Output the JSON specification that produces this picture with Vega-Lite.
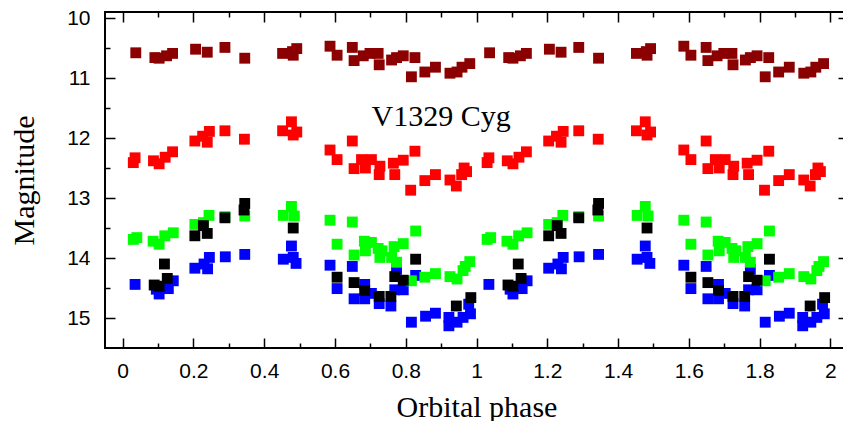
{
  "$schema": "https://vega.github.io/schema/vega-lite/v6.json",
  "autosize": "none",
  "width": 743,
  "height": 336,
  "padding": {"left": 105, "top": 12, "right": 0, "bottom": 73},
  "background": "white",
  "config": {
    "view": {"stroke": "black", "strokeWidth": 2},
    "axis": {
      "domain": false, "grid": false, "tickColor": "black", "tickWidth": 1.5,
      "labelFont": "Liberation Sans", "labelFontSize": 21, "labelColor": "black",
      "titleFont": "Liberation Serif", "titleFontSize": 30, "titleFontWeight": "normal", "titleColor": "black"
    }
  },
  "data": {"values": [
    {"series":"DR","phase":0.037,"mag":10.58},{"series":"DR","phase":0.091,"mag":10.66},{"series":"DR","phase":0.103,"mag":10.67},{"series":"DR","phase":0.124,"mag":10.63},{"series":"DR","phase":0.141,"mag":10.59},{"series":"DR","phase":0.206,"mag":10.52},{"series":"DR","phase":0.239,"mag":10.57},{"series":"DR","phase":0.289,"mag":10.49},{"series":"DR","phase":0.345,"mag":10.67},{"series":"DR","phase":0.452,"mag":10.59},{"series":"DR","phase":0.480,"mag":10.56},{"series":"DR","phase":0.492,"mag":10.51},{"series":"DR","phase":0.482,"mag":10.62},{"series":"DR","phase":0.586,"mag":10.47},{"series":"DR","phase":0.606,"mag":10.62},{"series":"DR","phase":0.649,"mag":10.49},{"series":"DR","phase":0.654,"mag":10.71},{"series":"DR","phase":0.680,"mag":10.63},{"series":"DR","phase":0.699,"mag":10.59},{"series":"DR","phase":0.722,"mag":10.59},{"series":"DR","phase":0.725,"mag":10.78},{"series":"DR","phase":0.760,"mag":10.70},{"series":"DR","phase":0.774,"mag":10.66},{"series":"DR","phase":0.793,"mag":10.63},{"series":"DR","phase":0.826,"mag":10.66},{"series":"DR","phase":0.816,"mag":10.98},{"series":"DR","phase":0.854,"mag":10.90},{"series":"DR","phase":0.884,"mag":10.82},{"series":"DR","phase":0.925,"mag":10.92},{"series":"DR","phase":0.945,"mag":10.90},{"series":"DR","phase":0.959,"mag":10.82},{"series":"DR","phase":0.981,"mag":10.76},
    {"series":"DR","phase":1.037,"mag":10.58},{"series":"DR","phase":1.091,"mag":10.66},{"series":"DR","phase":1.103,"mag":10.67},{"series":"DR","phase":1.124,"mag":10.63},{"series":"DR","phase":1.141,"mag":10.59},{"series":"DR","phase":1.206,"mag":10.52},{"series":"DR","phase":1.239,"mag":10.57},{"series":"DR","phase":1.289,"mag":10.49},{"series":"DR","phase":1.345,"mag":10.67},{"series":"DR","phase":1.452,"mag":10.59},{"series":"DR","phase":1.480,"mag":10.56},{"series":"DR","phase":1.492,"mag":10.51},{"series":"DR","phase":1.482,"mag":10.62},{"series":"DR","phase":1.586,"mag":10.47},{"series":"DR","phase":1.606,"mag":10.62},{"series":"DR","phase":1.649,"mag":10.49},{"series":"DR","phase":1.654,"mag":10.71},{"series":"DR","phase":1.680,"mag":10.63},{"series":"DR","phase":1.699,"mag":10.59},{"series":"DR","phase":1.722,"mag":10.59},{"series":"DR","phase":1.725,"mag":10.78},{"series":"DR","phase":1.760,"mag":10.70},{"series":"DR","phase":1.774,"mag":10.66},{"series":"DR","phase":1.793,"mag":10.63},{"series":"DR","phase":1.826,"mag":10.66},{"series":"DR","phase":1.816,"mag":10.98},{"series":"DR","phase":1.854,"mag":10.90},{"series":"DR","phase":1.884,"mag":10.82},{"series":"DR","phase":1.925,"mag":10.92},{"series":"DR","phase":1.945,"mag":10.90},{"series":"DR","phase":1.959,"mag":10.82},{"series":"DR","phase":1.981,"mag":10.76},
    {"series":"R","phase":0.035,"mag":12.33},{"series":"R","phase":0.030,"mag":12.41},{"series":"R","phase":0.087,"mag":12.38},{"series":"R","phase":0.103,"mag":12.43},{"series":"R","phase":0.120,"mag":12.32},{"series":"R","phase":0.141,"mag":12.23},{"series":"R","phase":0.204,"mag":12.05},{"series":"R","phase":0.226,"mag":11.97},{"series":"R","phase":0.239,"mag":12.07},{"series":"R","phase":0.245,"mag":11.89},{"series":"R","phase":0.289,"mag":11.88},{"series":"R","phase":0.344,"mag":12.02},{"series":"R","phase":0.452,"mag":11.88},{"series":"R","phase":0.477,"mag":11.73},{"series":"R","phase":0.492,"mag":11.90},{"series":"R","phase":0.482,"mag":11.95},{"series":"R","phase":0.586,"mag":12.20},{"series":"R","phase":0.606,"mag":12.36},{"series":"R","phase":0.649,"mag":12.05},{"series":"R","phase":0.654,"mag":12.51},{"series":"R","phase":0.675,"mag":12.36},{"series":"R","phase":0.686,"mag":12.50},{"series":"R","phase":0.703,"mag":12.36},{"series":"R","phase":0.727,"mag":12.47},{"series":"R","phase":0.725,"mag":12.61},{"series":"R","phase":0.765,"mag":12.42},{"series":"R","phase":0.769,"mag":12.61},{"series":"R","phase":0.793,"mag":12.37},{"series":"R","phase":0.826,"mag":12.22},{"series":"R","phase":0.814,"mag":12.87},{"series":"R","phase":0.854,"mag":12.71},{"series":"R","phase":0.884,"mag":12.61},{"series":"R","phase":0.925,"mag":12.70},{"series":"R","phase":0.943,"mag":12.80},{"series":"R","phase":0.958,"mag":12.61},{"series":"R","phase":0.972,"mag":12.56},{"series":"R","phase":0.965,"mag":12.50},
    {"series":"R","phase":1.035,"mag":12.33},{"series":"R","phase":1.030,"mag":12.41},{"series":"R","phase":1.087,"mag":12.38},{"series":"R","phase":1.103,"mag":12.43},{"series":"R","phase":1.120,"mag":12.32},{"series":"R","phase":1.141,"mag":12.23},{"series":"R","phase":1.204,"mag":12.05},{"series":"R","phase":1.226,"mag":11.97},{"series":"R","phase":1.239,"mag":12.07},{"series":"R","phase":1.245,"mag":11.89},{"series":"R","phase":1.289,"mag":11.88},{"series":"R","phase":1.344,"mag":12.02},{"series":"R","phase":1.452,"mag":11.88},{"series":"R","phase":1.477,"mag":11.73},{"series":"R","phase":1.492,"mag":11.90},{"series":"R","phase":1.482,"mag":11.95},{"series":"R","phase":1.586,"mag":12.20},{"series":"R","phase":1.606,"mag":12.36},{"series":"R","phase":1.649,"mag":12.05},{"series":"R","phase":1.654,"mag":12.51},{"series":"R","phase":1.675,"mag":12.36},{"series":"R","phase":1.686,"mag":12.50},{"series":"R","phase":1.703,"mag":12.36},{"series":"R","phase":1.727,"mag":12.47},{"series":"R","phase":1.725,"mag":12.61},{"series":"R","phase":1.765,"mag":12.42},{"series":"R","phase":1.769,"mag":12.61},{"series":"R","phase":1.793,"mag":12.37},{"series":"R","phase":1.826,"mag":12.22},{"series":"R","phase":1.814,"mag":12.87},{"series":"R","phase":1.854,"mag":12.71},{"series":"R","phase":1.884,"mag":12.61},{"series":"R","phase":1.925,"mag":12.70},{"series":"R","phase":1.943,"mag":12.80},{"series":"R","phase":1.958,"mag":12.61},{"series":"R","phase":1.972,"mag":12.56},{"series":"R","phase":1.965,"mag":12.50},
    {"series":"B","phase":0.035,"mag":14.44},{"series":"B","phase":0.095,"mag":14.52},{"series":"B","phase":0.103,"mag":14.60},{"series":"B","phase":0.143,"mag":14.38},{"series":"B","phase":0.129,"mag":14.51},{"series":"B","phase":0.204,"mag":14.17},{"series":"B","phase":0.230,"mag":14.10},{"series":"B","phase":0.240,"mag":14.18},{"series":"B","phase":0.245,"mag":13.99},{"series":"B","phase":0.290,"mag":13.98},{"series":"B","phase":0.345,"mag":13.94},{"series":"B","phase":0.454,"mag":14.02},{"series":"B","phase":0.477,"mag":13.80},{"series":"B","phase":0.482,"mag":13.99},{"series":"B","phase":0.490,"mag":14.09},{"series":"B","phase":0.586,"mag":14.12},{"series":"B","phase":0.649,"mag":14.14},{"series":"B","phase":0.606,"mag":14.51},{"series":"B","phase":0.654,"mag":14.68},{"series":"B","phase":0.684,"mag":14.44},{"series":"B","phase":0.684,"mag":14.68},{"series":"B","phase":0.703,"mag":14.59},{"series":"B","phase":0.725,"mag":14.76},{"series":"B","phase":0.758,"mag":14.80},{"series":"B","phase":0.769,"mag":14.53},{"series":"B","phase":0.774,"mag":14.19},{"series":"B","phase":0.793,"mag":14.53},{"series":"B","phase":0.828,"mag":14.29},{"series":"B","phase":0.816,"mag":15.07},{"series":"B","phase":0.856,"mag":14.97},{"series":"B","phase":0.884,"mag":14.92},{"series":"B","phase":0.922,"mag":14.99},{"series":"B","phase":0.922,"mag":15.13},{"series":"B","phase":0.945,"mag":15.07},{"series":"B","phase":0.962,"mag":14.99},{"series":"B","phase":0.983,"mag":14.93},{"series":"B","phase":0.978,"mag":14.77},
    {"series":"B","phase":1.035,"mag":14.44},{"series":"B","phase":1.095,"mag":14.52},{"series":"B","phase":1.103,"mag":14.60},{"series":"B","phase":1.143,"mag":14.38},{"series":"B","phase":1.129,"mag":14.51},{"series":"B","phase":1.204,"mag":14.17},{"series":"B","phase":1.230,"mag":14.10},{"series":"B","phase":1.240,"mag":14.18},{"series":"B","phase":1.245,"mag":13.99},{"series":"B","phase":1.290,"mag":13.98},{"series":"B","phase":1.345,"mag":13.94},{"series":"B","phase":1.454,"mag":14.02},{"series":"B","phase":1.477,"mag":13.80},{"series":"B","phase":1.482,"mag":13.99},{"series":"B","phase":1.490,"mag":14.09},{"series":"B","phase":1.586,"mag":14.12},{"series":"B","phase":1.649,"mag":14.14},{"series":"B","phase":1.606,"mag":14.51},{"series":"B","phase":1.654,"mag":14.68},{"series":"B","phase":1.684,"mag":14.44},{"series":"B","phase":1.684,"mag":14.68},{"series":"B","phase":1.703,"mag":14.59},{"series":"B","phase":1.725,"mag":14.76},{"series":"B","phase":1.758,"mag":14.80},{"series":"B","phase":1.769,"mag":14.53},{"series":"B","phase":1.774,"mag":14.19},{"series":"B","phase":1.793,"mag":14.53},{"series":"B","phase":1.828,"mag":14.29},{"series":"B","phase":1.816,"mag":15.07},{"series":"B","phase":1.856,"mag":14.97},{"series":"B","phase":1.884,"mag":14.92},{"series":"B","phase":1.922,"mag":14.99},{"series":"B","phase":1.922,"mag":15.13},{"series":"B","phase":1.945,"mag":15.07},{"series":"B","phase":1.962,"mag":14.99},{"series":"B","phase":1.983,"mag":14.93},{"series":"B","phase":1.978,"mag":14.77},
    {"series":"G","phase":0.030,"mag":13.69},{"series":"G","phase":0.040,"mag":13.66},{"series":"G","phase":0.086,"mag":13.72},{"series":"G","phase":0.103,"mag":13.77},{"series":"G","phase":0.119,"mag":13.63},{"series":"G","phase":0.143,"mag":13.58},{"series":"G","phase":0.204,"mag":13.44},{"series":"G","phase":0.228,"mag":13.41},{"series":"G","phase":0.244,"mag":13.29},{"series":"G","phase":0.289,"mag":13.31},{"series":"G","phase":0.345,"mag":13.30},{"series":"G","phase":0.454,"mag":13.29},{"series":"G","phase":0.477,"mag":13.14},{"series":"G","phase":0.485,"mag":13.30},{"series":"G","phase":0.586,"mag":13.37},{"series":"G","phase":0.649,"mag":13.40},{"series":"G","phase":0.606,"mag":13.77},{"series":"G","phase":0.654,"mag":13.95},{"series":"G","phase":0.683,"mag":13.72},{"series":"G","phase":0.686,"mag":13.88},{"series":"G","phase":0.703,"mag":13.74},{"series":"G","phase":0.722,"mag":13.84},{"series":"G","phase":0.727,"mag":13.99},{"series":"G","phase":0.733,"mag":13.88},{"series":"G","phase":0.767,"mag":13.81},{"series":"G","phase":0.793,"mag":13.76},{"series":"G","phase":0.760,"mag":13.99},{"series":"G","phase":0.774,"mag":14.07},{"series":"G","phase":0.828,"mag":13.55},{"series":"G","phase":0.816,"mag":14.38},{"series":"G","phase":0.854,"mag":14.32},{"series":"G","phase":0.884,"mag":14.26},{"series":"G","phase":0.925,"mag":14.31},{"series":"G","phase":0.945,"mag":14.35},{"series":"G","phase":0.962,"mag":14.21},{"series":"G","phase":0.968,"mag":14.14},{"series":"G","phase":0.981,"mag":14.06},
    {"series":"G","phase":1.030,"mag":13.69},{"series":"G","phase":1.040,"mag":13.66},{"series":"G","phase":1.086,"mag":13.72},{"series":"G","phase":1.103,"mag":13.77},{"series":"G","phase":1.119,"mag":13.63},{"series":"G","phase":1.143,"mag":13.58},{"series":"G","phase":1.204,"mag":13.44},{"series":"G","phase":1.228,"mag":13.41},{"series":"G","phase":1.244,"mag":13.29},{"series":"G","phase":1.289,"mag":13.31},{"series":"G","phase":1.345,"mag":13.30},{"series":"G","phase":1.454,"mag":13.29},{"series":"G","phase":1.477,"mag":13.14},{"series":"G","phase":1.485,"mag":13.30},{"series":"G","phase":1.586,"mag":13.37},{"series":"G","phase":1.649,"mag":13.40},{"series":"G","phase":1.606,"mag":13.77},{"series":"G","phase":1.654,"mag":13.95},{"series":"G","phase":1.683,"mag":13.72},{"series":"G","phase":1.686,"mag":13.88},{"series":"G","phase":1.703,"mag":13.74},{"series":"G","phase":1.722,"mag":13.84},{"series":"G","phase":1.727,"mag":13.99},{"series":"G","phase":1.733,"mag":13.88},{"series":"G","phase":1.767,"mag":13.81},{"series":"G","phase":1.793,"mag":13.76},{"series":"G","phase":1.760,"mag":13.99},{"series":"G","phase":1.774,"mag":14.07},{"series":"G","phase":1.828,"mag":13.55},{"series":"G","phase":1.816,"mag":14.38},{"series":"G","phase":1.854,"mag":14.32},{"series":"G","phase":1.884,"mag":14.26},{"series":"G","phase":1.925,"mag":14.31},{"series":"G","phase":1.945,"mag":14.35},{"series":"G","phase":1.962,"mag":14.21},{"series":"G","phase":1.968,"mag":14.14},{"series":"G","phase":1.981,"mag":14.06},
    {"series":"K","phase":0.345,"mag":13.09},{"series":"K","phase":0.343,"mag":13.20},{"series":"K","phase":0.289,"mag":13.33},{"series":"K","phase":0.228,"mag":13.46},{"series":"K","phase":0.204,"mag":13.63},{"series":"K","phase":0.239,"mag":13.59},{"series":"K","phase":0.118,"mag":14.10},{"series":"K","phase":0.089,"mag":14.45},{"series":"K","phase":0.103,"mag":14.47},{"series":"K","phase":0.126,"mag":14.34},{"series":"K","phase":0.482,"mag":13.50},{"series":"K","phase":0.828,"mag":14.02},{"series":"K","phase":0.606,"mag":14.32},{"series":"K","phase":0.654,"mag":14.41},{"series":"K","phase":0.684,"mag":14.54},{"series":"K","phase":0.725,"mag":14.64},{"series":"K","phase":0.758,"mag":14.64},{"series":"K","phase":0.769,"mag":14.31},{"series":"K","phase":0.793,"mag":14.37},{"series":"K","phase":0.943,"mag":14.80},{"series":"K","phase":0.984,"mag":14.66},
    {"series":"K","phase":1.345,"mag":13.09},{"series":"K","phase":1.343,"mag":13.20},{"series":"K","phase":1.289,"mag":13.33},{"series":"K","phase":1.228,"mag":13.46},{"series":"K","phase":1.204,"mag":13.63},{"series":"K","phase":1.239,"mag":13.59},{"series":"K","phase":1.118,"mag":14.10},{"series":"K","phase":1.089,"mag":14.45},{"series":"K","phase":1.103,"mag":14.47},{"series":"K","phase":1.126,"mag":14.34},{"series":"K","phase":1.482,"mag":13.50},{"series":"K","phase":1.828,"mag":14.02},{"series":"K","phase":1.606,"mag":14.32},{"series":"K","phase":1.654,"mag":14.41},{"series":"K","phase":1.684,"mag":14.54},{"series":"K","phase":1.725,"mag":14.64},{"series":"K","phase":1.758,"mag":14.64},{"series":"K","phase":1.769,"mag":14.31},{"series":"K","phase":1.793,"mag":14.37},{"series":"K","phase":1.943,"mag":14.80},{"series":"K","phase":1.984,"mag":14.66}
  ]},
  "resolve": {"axis": {"x": "independent", "y": "independent"}},
  "layer": [
    {
      "mark": {"type": "square", "size": 118, "filled": true, "opacity": 1},
      "encoding": {
        "x": {"field": "phase", "type": "quantitative",
          "scale": {"domain": [-0.05, 2.05], "nice": false, "zero": false},
          "axis": {"orient": "bottom", "values": [0, 0.2, 0.4, 0.6, 0.8, 1, 1.2, 1.4, 1.6, 1.8, 2], "tickSize": -10, "labelPadding": 22, "labelExpr": "'' + datum.value", "title": "Orbital phase", "titleBaseline": "alphabetic", "titleY": 68}},
        "y": {"field": "mag", "type": "quantitative",
          "scale": {"domain": [9.9, 15.5], "reverse": true, "nice": false, "zero": false},
          "axis": {"orient": "left", "values": [10, 11, 12, 13, 14, 15], "tickSize": -10, "labelPadding": 25, "title": "Magnitude", "titleBaseline": "alphabetic", "titleX": -72, "titleY": 168, "titleAngle": 270}},
        "color": {"field": "series", "type": "nominal",
          "scale": {"domain": ["DR", "R", "B", "G", "K"], "range": ["#8b0000", "#ff0000", "#0000ff", "#00ff00", "#000000"]},
          "legend": null}
      }
    },
    {
      "mark": {"type": "square", "opacity": 0},
      "encoding": {
        "x": {"field": "phase", "type": "quantitative",
          "scale": {"domain": [-0.05, 2.05], "nice": false, "zero": false},
          "axis": {"orient": "bottom", "values": [0.1, 0.3, 0.5, 0.7, 0.9, 1.1, 1.3, 1.5, 1.7, 1.9], "tickSize": -5, "labels": false, "title": null}},
        "y": {"field": "mag", "type": "quantitative",
          "scale": {"domain": [9.9, 15.5], "reverse": true, "nice": false, "zero": false},
          "axis": {"orient": "left", "values": [10.5, 11.5, 12.5, 13.5, 14.5], "tickSize": -5, "labels": false, "title": null}}
      }
    },
    {
      "mark": {"type": "square", "opacity": 0},
      "encoding": {
        "x": {"field": "phase", "type": "quantitative",
          "scale": {"domain": [-0.05, 2.05], "nice": false, "zero": false},
          "axis": {"orient": "top", "values": [0, 0.2, 0.4, 0.6, 0.8, 1, 1.2, 1.4, 1.6, 1.8, 2], "tickSize": -10, "labels": false, "title": null}},
        "y": {"field": "mag", "type": "quantitative",
          "scale": {"domain": [9.9, 15.5], "reverse": true, "nice": false, "zero": false},
          "axis": {"orient": "right", "values": [10, 11, 12, 13, 14, 15], "tickSize": -10, "labels": false, "title": null}}
      }
    },
    {
      "mark": {"type": "square", "opacity": 0},
      "encoding": {
        "x": {"field": "phase", "type": "quantitative",
          "scale": {"domain": [-0.05, 2.05], "nice": false, "zero": false},
          "axis": {"orient": "top", "values": [0.1, 0.3, 0.5, 0.7, 0.9, 1.1, 1.3, 1.5, 1.7, 1.9], "tickSize": -5, "labels": false, "title": null}},
        "y": {"field": "mag", "type": "quantitative",
          "scale": {"domain": [9.9, 15.5], "reverse": true, "nice": false, "zero": false},
          "axis": {"orient": "right", "values": [10.5, 11.5, 12.5, 13.5, 14.5], "tickSize": -5, "labels": false, "title": null}}
      }
    },
    {
      "data": {"values": [{"label": "V1329 Cyg"}]},
      "mark": {"type": "text", "font": "Liberation Serif", "fontSize": 30, "fontWeight": "normal", "baseline": "alphabetic", "align": "center", "fill": "black"},
      "encoding": {
        "text": {"field": "label"},
        "x": {"datum": 0.9, "type": "quantitative", "axis": null},
        "y": {"datum": 11.8, "type": "quantitative", "axis": null}
      }
    }
  ]
}
